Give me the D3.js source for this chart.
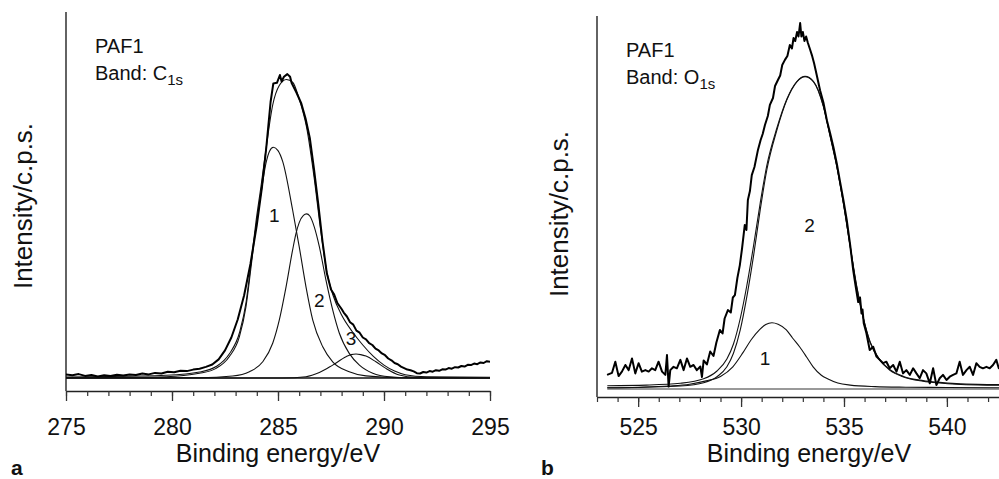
<!DOCTYPE html>
<html>
<head>
<meta charset="utf-8">
<script src="https://cdn.jsdelivr.net/npm/d3@7"></script>
<style>
  body { margin: 0; background: #fff; }
  svg { display: block; }
</style>
</head>
<body>
<div id="chart"></div>
<script>
// ---- data: [binding energy (eV), intensity (arb.)] ----

// panel a, C1s band
const c1sRaw = [
  [275.0,1.2],[275.3,0.9],[275.6,1.3],[275.9,0.7],[276.2,1.0],[276.5,0.5],[276.8,0.9],[277.1,0.7],
  [277.4,1.1],[277.7,0.8],[278.0,1.2],[278.3,1.0],[278.6,1.5],[278.9,1.2],[279.2,1.7],[279.5,1.5],
  [279.8,2.1],[280.1,1.9],[280.4,2.4],[280.7,2.3],[281.0,2.8],[281.3,3.1],[281.6,3.7],[281.9,4.5],
  [282.2,6.2],[282.5,9.2],[282.8,13.5],[283.1,19.5],[283.4,27.5],[283.7,38],[284.0,51],[284.25,64],
  [284.45,77],[284.65,92],[284.78,98.2],[284.95,98.4],[285.09,101],[285.17,98.8],[285.28,100.4],
  [285.44,101.3],[285.57,100.4],[285.65,98.2],[285.88,95],[286.1,91.5],[286.3,86.5],[286.5,80],
  [286.7,69.5],[286.9,58],[287.1,45.5],[287.3,35],[287.5,29.5],[287.65,27.8],[287.8,25],[288.0,23],
  [288.1,21.8],[288.25,20.5],[288.4,18.6],[288.55,17.8],[288.7,15.8],[288.85,15.1],[289.0,13.5],
  [289.15,12.9],[289.3,11.6],[289.45,11.0],[289.6,9.8],[289.75,9.2],[289.9,8.2],[290.05,7.6],
  [290.2,6.5],[290.35,5.9],[290.5,5.0],[290.65,4.6],[290.8,3.8],[290.95,3.3],[291.1,2.8],[291.25,2.6],
  [291.4,2.2],[291.55,1.6],[291.7,1.5],[291.85,2.0],[292.0,1.8],[292.15,2.3],[292.3,2.1],[292.45,2.6],
  [292.6,2.4],[292.75,2.9],[292.9,2.8],[293.05,3.3],[293.2,3.1],[293.35,3.6],[293.5,3.5],[293.65,4.0],
  [293.8,3.8],[293.95,4.4],[294.1,4.3],[294.25,4.8],[294.4,4.6],[294.55,5.2],[294.7,5.0],[294.85,5.6],
  [295.0,5.4]
];
const c1sEnvelope = [
  [275,0.3],[278,0.6],[279.7,0.9],[281.3,2.0],[282.1,3.9],[282.7,8.0],[283.2,15.5],[283.5,25.5],
  [283.73,38.5],[283.96,52],[284.2,64],[284.43,76],[284.75,91],[285.06,97.5],[285.4,99.5],[285.7,98.5],
  [286.0,93],[286.35,83.5],[286.7,67],[287.0,50],[287.3,35.5],[287.6,27.5],[288.0,21],[288.5,15.5],
  [289.0,11],[289.5,7.2],[290.0,4.3],[290.5,2.3],[291.0,1.1],[292,0.4],[295,0.2]
];
const c1sPeak1 = [
  [275,0.1],[279.72,0.44],[281.29,1.56],[282.08,3.2],[282.7,7.1],[283.18,13.8],[283.49,23.8],
  [283.73,37.1],[283.96,50.4],[284.2,61.6],[284.43,71.5],[284.6,75.6],[284.78,76.9],[285.0,75.8],
  [285.22,72.2],[285.69,56],[286.0,43.8],[286.32,30.4],[286.64,19.3],[287.11,10.4],[287.58,5.4],
  [288.36,2.1],[289.15,0.7],[290.72,0.1],[295,0]
];
const c1sPeak2 = [
  [275,0],[281.29,0.1],[282.86,0.67],[283.65,2.1],[284.28,5.4],[284.75,11.6],[285.06,19.3],
  [285.38,30.4],[285.69,42.7],[285.85,48.2],[286.0,51.8],[286.2,54.2],[286.35,54.7],[286.5,54.0],
  [286.71,50.4],[286.95,43.8],[287.26,32.7],[287.58,22.7],[287.89,15],[288.36,8.2],[288.84,4.3],
  [289.47,1.6],[290.25,0.4],[291.5,0],[295,0]
];
const c1sPeak3 = [
  [275,0],[285.22,0],[286.32,0.44],[286.95,1.8],[287.58,4.3],[288.21,7.1],[288.45,7.8],[288.68,8.0],
  [288.9,7.8],[289.15,7.3],[289.62,5.4],[290.09,3.2],[290.72,1.0],[291.5,0.2],[295,0]
];
const c1sBaseline = [[275,0],[295,0]];
const c1sLabels = [["1",284.83,54.3],["2",286.95,26],["3",288.44,13.2]];
const c1sTicks = [275,280,285,290,295];

// panel b, O1s band
const o1sRaw = [
  [523.49,4.7],[523.73,5.4],[523.89,9.1],[524.05,4.3],[524.21,5.8],[524.38,8.0],[524.54,6.3],[524.70,10.2],
  [524.86,5.2],[525.02,8.6],[525.18,5.8],[525.35,6.3],[525.51,5.8],[525.67,6.9],[525.83,6.3],[525.99,9.1],
  [526.16,5.8],[526.32,4.7],[526.40,11.3],[526.48,0.8],[526.56,6.3],[526.72,7.4],[526.88,6.9],[527.05,9.7],
  [527.21,6.3],[527.37,10.2],[527.53,7.4],[527.69,8.0],[527.85,6.3],[528.02,7.5],[528.10,4.0],[528.18,9.5],
  [528.34,8.2],[528.5,12.5],[528.66,11.0],[528.8,15.5],[528.97,19.7],[529.1,18.5],[529.2,23.5],
  [529.36,26.3],[529.5,25.5],[529.6,30.5],[529.7,31.3],[529.82,37],[529.94,41.3],[530.05,47],
  [530.18,54.7],[530.26,53],[530.33,63],[530.43,66],[530.52,71.3],[530.65,74],[530.82,79.7],[530.95,83],
  [531.05,85],[531.16,88],[531.3,91],[531.4,94.7],[531.55,97],[531.65,101],[531.79,103],[531.9,104.5],
  [532.0,108],[532.13,109.7],[532.25,111],[532.37,114.7],[532.47,113.5],[532.55,117],[532.63,116],
  [532.72,119],[532.79,117.5],[532.87,122],[532.93,117.5],[533.0,119],[533.08,116],[533.16,117.5],
  [533.24,115.5],[533.36,113],[533.44,111.3],[533.55,108.5],[533.68,104.5],[533.84,99.5],[534.0,95.5],
  [534.17,89.5],[534.33,85.2],[534.49,80.5],[534.65,75.2],[534.81,69],[534.97,63],[535.13,56.5],
  [535.3,48],[535.44,40],[535.55,35],[535.69,29],[535.78,30.5],[535.85,25.2],[535.9,26.5],[535.96,21.9],
  [536.09,18.6],[536.25,13],[536.42,14.1],[536.58,10.8],[536.74,9.7],[536.9,8.6],[537.06,9.1],
  [537.22,6.9],[537.39,8],[537.55,5.8],[537.71,9.1],[537.87,5.2],[538.03,6.3],[538.2,4.7],[538.36,6.9],
  [538.52,5.2],[538.68,3.6],[538.84,6.3],[539.0,5.2],[539.17,1.9],[539.33,6.9],[539.49,1.3],[539.65,3.6],
  [539.81,4.7],[539.98,3.0],[540.14,4.1],[540.3,4.7],[540.46,5.2],[540.62,9.1],[540.78,4.7],[540.95,6.3],
  [541.11,7.4],[541.27,4.7],[541.43,8.6],[541.59,7.4],[541.75,6.9],[541.92,7.4],[542.08,6.9],[542.24,8.0],
  [542.4,9.7],[542.52,6.9],[542.7,8.5]
];
const o1sEnvelope = [
  [523.5,1.1],[525.4,1.3],[527.05,1.9],[528.18,3.4],[528.83,6.0],[529.31,10],[529.63,15],[529.96,23.5],
  [530.28,34.5],[530.6,47.5],[530.93,62],[531.25,74.5],[531.74,87],[532.22,96.6],[532.71,102.5],
  [533.11,104.2],[533.52,102.5],[534.0,94.3],[534.33,84.3],[534.65,74.3],[534.97,62.1],[535.3,47.7],
  [535.62,34.2],[535.94,23.7],[536.27,15.7],[536.75,9.7],[537.22,6.5],[537.89,4.2],[538.84,2.8],
  [539.65,2.2],[540.46,1.8],[541.5,1.55],[543.6,1.4]
];
const o1sPeak1 = [
  [523.5,0.4],[525,0.6],[526.5,1.0],[527.5,1.6],[528.3,2.7],[529.0,4.2],[529.6,7.4],[530.1,12.2],
  [530.5,16.5],[530.9,19.8],[531.2,21.5],[531.5,22.1],[531.8,21.6],[532.2,19.7],[532.5,17],[532.85,14.0],
  [533.2,10.5],[533.5,7.4],[533.9,4.6],[534.2,3.4],[534.7,2.0],[535.3,1.3],[536.5,0.8],[538,0.6],
  [540,0.5],[543.6,0.4]
];
const o1sPeak2 = [
  [523.5,0.4],[525.4,0.6],[527.05,1.0],[528.18,2.1],[528.83,4.1],[529.31,7.4],[529.63,11.9],[529.96,19.7],
  [530.28,30.8],[530.6,44.1],[530.93,59.7],[531.25,73],[531.74,86.3],[532.22,96.3],[532.71,102.4],
  [533.11,104.1],[533.52,102.4],[534.0,94.1],[534.33,84.1],[534.65,74.1],[534.97,61.9],[535.3,47.5],
  [535.62,34],[535.94,23.5],[536.27,15.5],[536.75,9.5],[537.22,6.3],[537.89,4.0],[538.84,2.6],
  [539.65,2.0],[540.46,1.6],[541.5,1.35],[543.6,1.2]
];
const o1sBaseline = [[523.5,0],[543.6,0]];
const o1sLabels = [["1",531.17,10.2],["2",533.33,54.7]];
const o1sTicks = [525,530,535,540];

// ---- drawing ----
const W = 999, H = 479;
const FONT = "'Liberation Sans', Arial, Helvetica, sans-serif";

const svg = d3.select("#chart").append("svg")
    .attr("width", W)
    .attr("height", H)
    .style("font-family", FONT);

function drawPanel(p) {
  const x = d3.scaleLinear().domain(p.xDomain).range(p.xRange);
  const y = d3.scaleLinear().domain(p.yDomain).range(p.yRange);
  const g = svg.append("g");
  const x0 = p.xRange[0], yBottom = p.yRange[0], yTop = p.yRange[1];

  // y axis: plain vertical line
  g.append("line")
      .attr("x1", x0).attr("x2", x0)
      .attr("y1", yTop).attr("y2", yBottom)
      .attr("stroke", "#222").attr("stroke-width", 1.4);

  // minor ticks every 1 eV
  const minor = g.append("g")
      .attr("transform", `translate(0,${yBottom})`)
      .call(d3.axisBottom(x)
        .tickValues(d3.range(Math.ceil(p.xDomain[0]), p.xDomain[1] + 0.001, 1))
        .tickSize(5).tickSizeOuter(0).tickFormat(""));
  minor.select(".domain").attr("stroke", "#222").attr("stroke-width", 1.4);
  minor.selectAll(".tick line").attr("stroke", "#333").attr("stroke-width", 1.2);

  // major ticks with labels
  const major = g.append("g")
      .attr("transform", `translate(0,${yBottom})`)
      .call(d3.axisBottom(x).tickValues(p.ticks).tickSize(10).tickPadding(p.tickPad).tickSizeOuter(0));
  major.select(".domain").remove();
  major.selectAll(".tick line").attr("stroke", "#333").attr("stroke-width", 1.3);
  major.selectAll(".tick text")
      .attr("font-family", FONT).attr("font-size", 23).attr("fill", "#111");

  // axis titles
  g.append("text")
      .attr("x", (p.xRange[0] + p.xRange[1]) / 2)
      .attr("y", 462)
      .attr("text-anchor", "middle")
      .attr("font-size", 25)
      .attr("fill", "#111")
      .text("Binding energy/eV");

  g.append("text")
      .attr("transform", `translate(${x0 - p.yTitleOff},${p.yTitleMid}) rotate(-90)`)
      .attr("text-anchor", "middle")
      .attr("font-size", 26)
      .attr("fill", "#111")
      .text("Intensity/c.p.s.");

  // panel letter
  g.append("text")
      .attr("x", p.letterX).attr("y", 475)
      .attr("font-size", 21).attr("font-weight", "bold")
      .attr("fill", "#111")
      .text(p.letter);

  // sample / band annotation
  g.append("text")
      .attr("x", x0 + 29).attr("y", yTop + 41)
      .attr("font-size", 20).attr("fill", "#111")
      .text("PAF1");
  const band = g.append("text")
      .attr("x", x0 + 29).attr("y", yTop + 68)
      .attr("font-size", 20).attr("fill", "#111");
  band.append("tspan").text("Band: " + p.element);
  band.append("tspan").attr("dy", 5).attr("font-size", 15).text("1s");

  // curves
  const clipId = "clip-" + p.letter;
  g.append("clipPath").attr("id", clipId)
    .append("rect")
      .attr("x", x0).attr("y", 0)
      .attr("width", Math.min(p.xRange[1], W) - x0).attr("height", yBottom);

  const smooth = d3.line().x(d => x(d[0])).y(d => y(d[1])).curve(d3.curveMonotoneX);
  const jagged = d3.line().x(d => x(d[0])).y(d => y(d[1]));
  const curves = g.append("g").attr("clip-path", `url(#${clipId})`).attr("fill", "none");

  curves.append("path").attr("d", smooth(p.baseline))
      .attr("stroke", p.baseColor).attr("stroke-width", 1.5);
  p.peaks.forEach(pk => {
    curves.append("path").attr("d", smooth(pk))
        .attr("stroke", "#111").attr("stroke-width", 1.1);
  });
  curves.append("path").attr("d", smooth(p.envelope))
      .attr("stroke", "#111").attr("stroke-width", 1.1);
  curves.append("path").attr("d", jagged(p.raw))
      .attr("stroke", "#000").attr("stroke-width", 2)
      .attr("stroke-linejoin", "round");

  // peak numbers
  g.selectAll(null).data(p.labels).enter().append("text")
      .attr("x", d => x(d[1]))
      .attr("y", d => y(d[2]))
      .attr("dy", "0.36em")
      .attr("text-anchor", "middle")
      .attr("font-size", 19)
      .attr("fill", "#111")
      .text(d => d[0]);
}

drawPanel({
  letter: "a", letterX: 11, element: "C",
  xDomain: [275, 295], xRange: [66, 490],
  yDomain: [-13 / 3, 122], yRange: [391, 12],
  ticks: c1sTicks, tickPad: 17.2,
  yTitleOff: 34, yTitleMid: 206,
  raw: c1sRaw, envelope: c1sEnvelope,
  peaks: [c1sPeak1, c1sPeak2, c1sPeak3],
  baseline: c1sBaseline, baseColor: "#111",
  labels: c1sLabels
});

drawPanel({
  letter: "b", letterX: 541, element: "O",
  xDomain: [523, 543.6], xRange: [597, 1021],
  yDomain: [-8 / 3, 373 / 3], yRange: [397, 16],
  ticks: o1sTicks, tickPad: 11.4,
  yTitleOff: 29, yTitleMid: 214,
  raw: o1sRaw, envelope: o1sEnvelope,
  peaks: [o1sPeak1, o1sPeak2],
  baseline: o1sBaseline, baseColor: "#777",
  labels: o1sLabels
});
</script>
</body>
</html>
